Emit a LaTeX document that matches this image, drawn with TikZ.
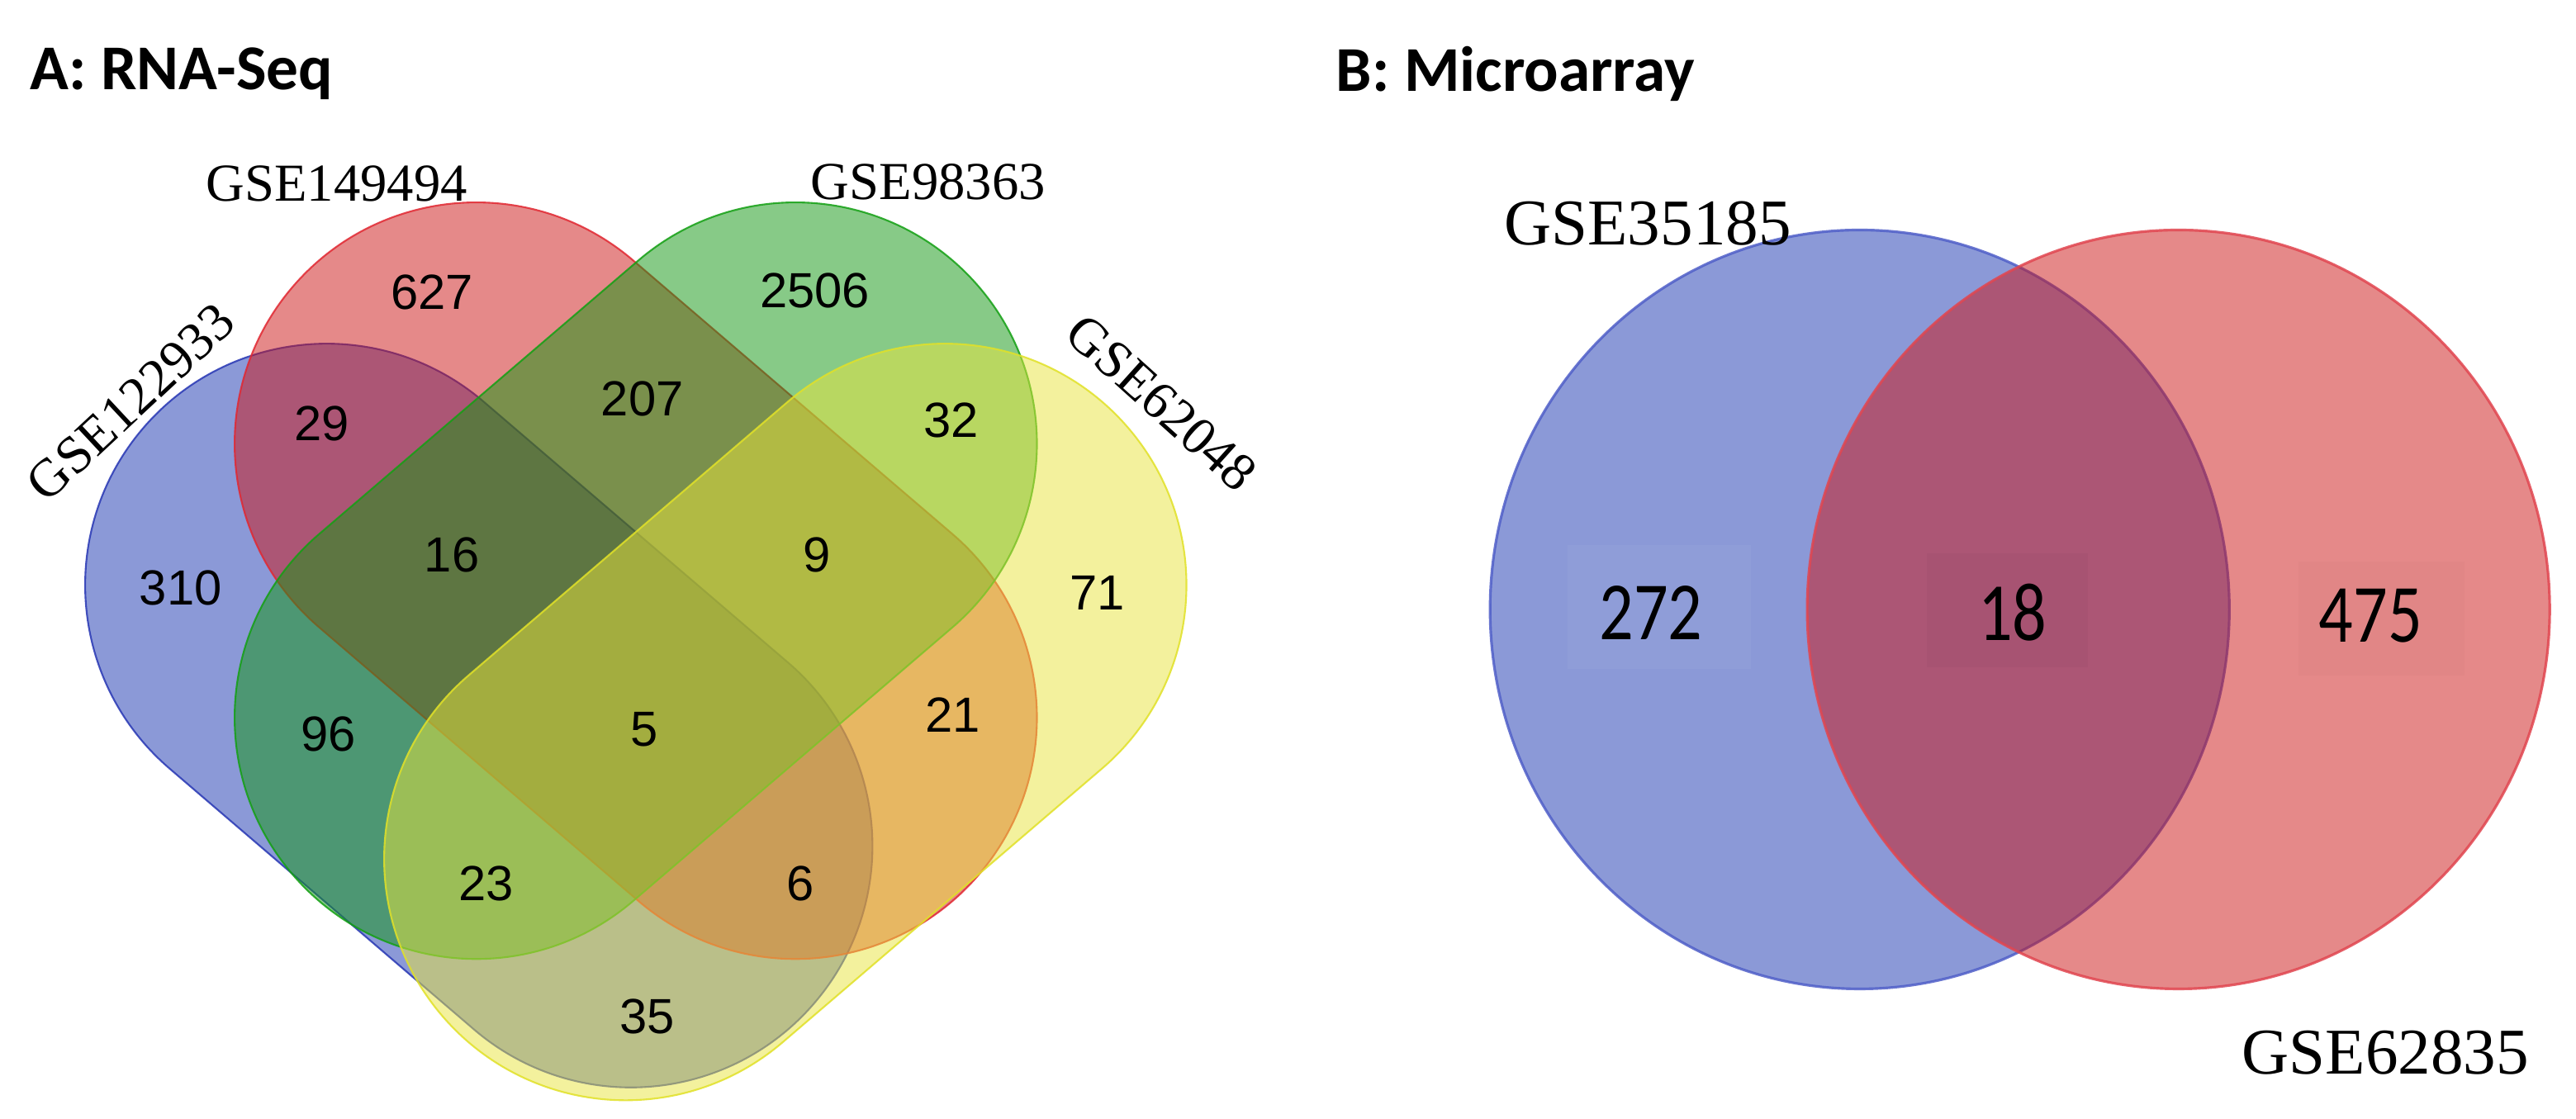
\documentclass[tikz,border=0pt]{standalone}
\usepackage{fontspec}
\setmainfont{Liberation Serif}
\newfontfamily\numfont{Liberation Sans}
\newfontfamily\titfont{Carlito}
\usepackage{graphicx}
\definecolor{vblue}{RGB}{25,53,177}
\definecolor{vred}{RGB}{205,21,21}
\definecolor{vgreen}{RGB}{17,151,17}
\definecolor{vyellow}{RGB}{233,229,61}
\definecolor{eblue}{RGB}{40,55,180}
\definecolor{ered}{RGB}{225,40,50}
\definecolor{egreen}{RGB}{20,160,20}
\definecolor{eyellow}{RGB}{225,225,40}
\definecolor{bblue}{RGB}{80,95,200}
\definecolor{bred}{RGB}{225,70,80}
\begin{document}
\begin{tikzpicture}[x=0.1989mm,y=0.1989mm,
  vset/.style={fill opacity=0.5, draw opacity=0.85, line width=0.6pt},
  bset/.style={fill opacity=0.5, draw opacity=0.85, line width=0.9pt},
  num/.style={font=\numfont\fontsize{17}{17}\selectfont, inner sep=0pt},
  bnum/.style={font=\titfont\fontsize{28.5}{28.5}\selectfont, inner sep=0pt},
  gse/.style={font=\fontsize{18.4}{18.4}\selectfont, inner sep=0pt},
  bgse/.style={font=\fontsize{22.5}{22.5}\selectfont, inner sep=0pt},
  ttl/.style={font=\titfont\bfseries\fontsize{22}{22}\selectfont, inner sep=0pt, anchor=west}]
\useasboundingbox (0,0) rectangle (1568,681);
\fill[white] (0,0) rectangle (1568,681);
% ---------- Panel A : four stadium-shaped sets ----------
\path[vset, fill=vblue, draw=eblue, shift={(296,241.5)}, rotate=-40.6]
  (-128,-147) -- (116,-147) arc[start angle=-90, end angle=90, radius=147]
  -- (-128,147) arc[start angle=90, end angle=270, radius=147] -- cycle;
\path[vset, fill=vred, draw=ered, shift={(387,327.5)}, rotate=-40.6]
  (-128,-147) -- (128,-147) arc[start angle=-90, end angle=90, radius=147]
  -- (-128,147) arc[start angle=90, end angle=270, radius=147] -- cycle;
\path[vset, fill=vgreen, draw=egreen, shift={(387,327.5)}, rotate=40.6]
  (-128,-147) -- (128,-147) arc[start angle=-90, end angle=90, radius=147]
  -- (-128,147) arc[start angle=90, end angle=270, radius=147] -- cycle;
\path[vset, fill=vyellow, draw=eyellow, shift={(478,241.5)}, rotate=40.6]
  (-128,-147) -- (128,-147) arc[start angle=-90, end angle=90, radius=147]
  -- (-128,147) arc[start angle=90, end angle=270, radius=147] -- cycle;
\node[ttl] (tA) at (18,636) {A: RNA-Seq};
\node[gse] (l1) at (205,569) {GSE149494};
\node[gse] (l2) at (565,570) {GSE98363};
\node[gse, rotate=43] (l0) at (79.5,436) {GSE122933};
\node[gse, rotate=-42] (l3) at (707,436) {GSE62048};
\node[num] (n627) at (263,503) {627};
\node[num] (n2506) at (496,504) {2506};
\node[num] (n29) at (196,423) {29};
\node[num] (n207) at (391,438) {207};
\node[num] (n32) at (579,425) {32};
\node[num] (n16) at (275,343) {16};
\node[num] (n9) at (497,343) {9};
\node[num] (n310) at (110,323) {310};
\node[num] (n71) at (668,320) {71};
\node[num] (n96) at (200,234) {96};
\node[num] (n5) at (392,237) {5};
\node[num] (n21) at (580,246) {21};
\node[num] (n23) at (296,143) {23};
\node[num] (n6) at (487,143) {6};
\node[num] (n35) at (394,62) {35};
% ---------- Panel B ----------
\path[bset, fill=vblue, draw=bblue] (1132,310) ellipse [x radius=225, y radius=231];
\path[bset, fill=vred, draw=bred] (1326,310) ellipse [x radius=226, y radius=231];
\fill[white, opacity=0.04] (954,274) rectangle (1066,349);
\fill[black, opacity=0.025] (1173,275) rectangle (1271,344);
\fill[black, opacity=0.015] (1399,270) rectangle (1500,339);
\node[ttl] (tB) at (813,636) {B: Microarray};
\node[bgse] (b1) at (1003,545) {GSE35185};
\node[bgse] (b2) at (1452,40) {GSE62835};
\node[bnum] (m272) at (1005,308) {\scalebox{0.82}[1]{272}};
\node[bnum] (m18) at (1225,308) {\scalebox{0.82}[1]{18}};
\node[bnum] (m475) at (1443,306) {\scalebox{0.82}[1]{475}};
\end{tikzpicture}
\end{document}
